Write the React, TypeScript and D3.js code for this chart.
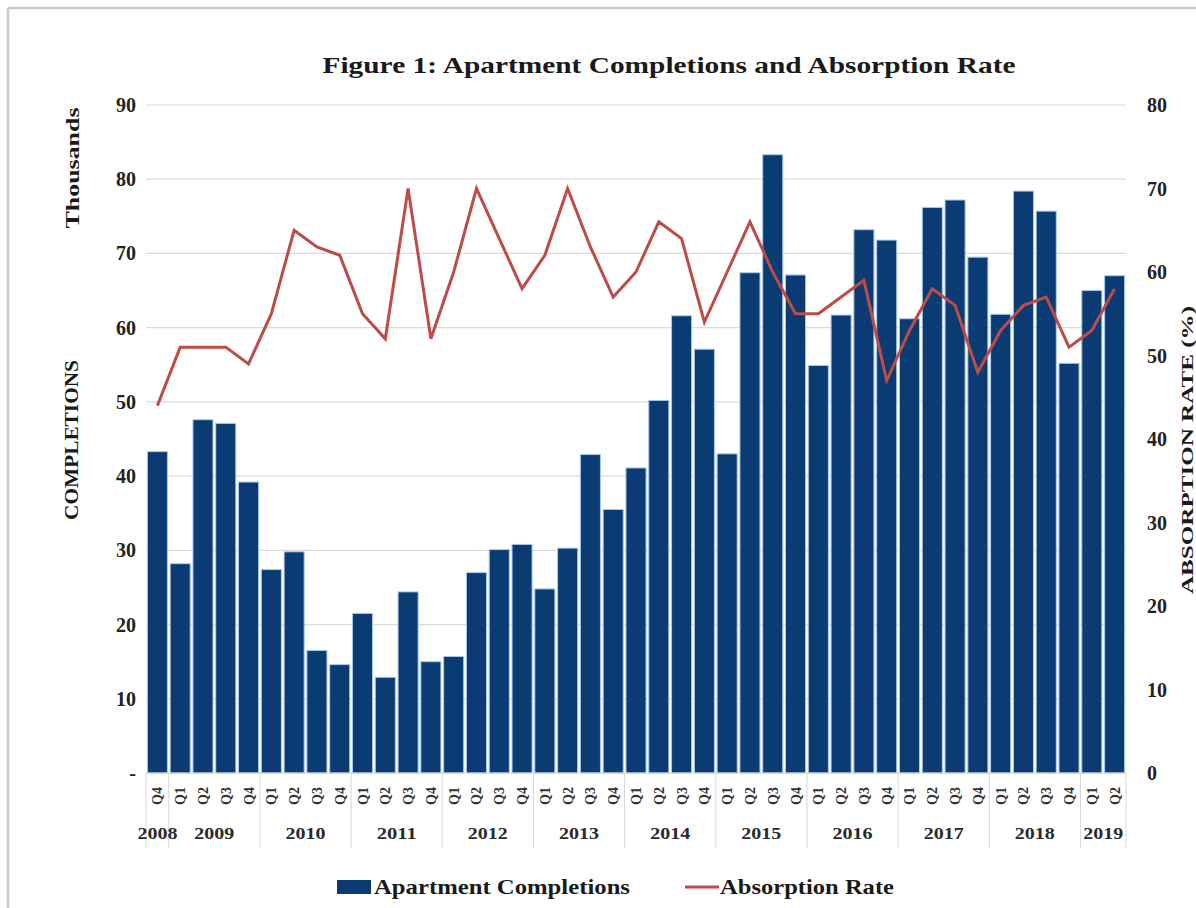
import React from "react";
import * as d3 from "d3";

const years = ["2008","2009","2010","2011","2012","2013","2014","2015","2016","2017","2018","2019"];
const quarters = [
  "Q4",
  "Q1","Q2","Q3","Q4",
  "Q1","Q2","Q3","Q4",
  "Q1","Q2","Q3","Q4",
  "Q1","Q2","Q3","Q4",
  "Q1","Q2","Q3","Q4",
  "Q1","Q2","Q3","Q4",
  "Q1","Q2","Q3","Q4",
  "Q1","Q2","Q3","Q4",
  "Q1","Q2","Q3","Q4",
  "Q1","Q2","Q3","Q4",
  "Q1","Q2",
];
const quartersPerYear = [1,4,4,4,4,4,4,4,4,4,4,2];
const completions = [
  43.3,
  28.2,47.6,47.1,39.2,
  27.4,29.8,16.5,14.6,
  21.5,12.9,24.4,15.0,
  15.7,27.0,30.1,30.8,
  24.8,30.3,42.9,35.5,
  41.1,50.2,61.6,57.1,
  43.0,67.4,83.3,67.1,
  54.9,61.7,73.2,71.8,
  61.2,76.2,77.2,69.5,
  61.8,78.4,75.7,55.2,
  65.0,67.0,
];
const absorption = [
  44,
  51,51,51,49,
  55,65,63,62,
  55,52,70,52,
  60,70,64,58,
  62,70,63,57,
  60,66,64,54,
  60,66,60,55,
  55,57,59,47,
  53,58,56,48,
  53,56,57,51,
  53,58,
];
const leftTicks = [0,10,20,30,40,50,60,70,80,90];
const rightTicks = [0,10,20,30,40,50,60,70,80];

const W = 1196, H = 908;
const L = 146, R = 1126, T = 105, B = 773;
const NAVY = "#0a3b72";
const RED = "#bd4b48";
const FONT = "'Liberation Serif', 'Times New Roman', serif";

export default function App() {
  const ids = quarters.map((_, i) => String(i));
  const x = d3.scaleBand().domain(ids).range([L, R]).paddingInner(0.12).paddingOuter(0.06);
  const yL = d3.scaleLinear().domain([0, 90]).range([B, T]);
  const yR = d3.scaleLinear().domain([0, 80]).range([B, T]);
  const line = d3.line<number>()
    .x((_, i) => (x(String(i)) as number) + x.bandwidth() / 2)
    .y((d) => yR(d));

  const bounds: number[] = [0];
  quartersPerYear.forEach((n) => bounds.push(bounds[bounds.length - 1] + n));
  const bx = (k: number) => L + (R - L) * (k / quarters.length);

  return (
    <svg width={W} height={H} style={{ position: "absolute", left: 0, top: 0, background: "#fff" }} fontFamily={FONT}>
      <rect x={0} y={0} width={W} height={H} fill="#fff" />
      <line x1={8} y1={8} x2={W} y2={8} stroke="#c9c9c9" strokeWidth={2.5} />
      <line x1={8} y1={8} x2={8} y2={H} stroke="#c9c9c9" strokeWidth={2.5} />

      <text x={669} y={73} textAnchor="middle" fontSize={23} fontWeight="bold" fill="#1a1a1a"
        textLength={693} lengthAdjust="spacingAndGlyphs">
        Figure 1: Apartment Completions and Absorption Rate
      </text>

      {leftTicks.filter((t) => t > 0).map((t) => (
        <line key={"g" + t} x1={L} x2={R} y1={yL(t)} y2={yL(t)} stroke="#dcdcdc" strokeWidth={1.2} />
      ))}

      {completions.map((v, i) => (
        <rect key={"b" + i} x={x(String(i))} y={yL(v)} width={x.bandwidth()} height={B - yL(v)}
          fill={NAVY} stroke="#a9c9ea" strokeWidth={1} />
      ))}

      <path d={line(absorption) || ""} fill="none" stroke={RED} strokeWidth={3} strokeLinejoin="miter" />

      <line x1={L} x2={R} y1={B} y2={B} stroke="#d0d0d0" strokeWidth={1} />

      {leftTicks.map((t) => (
        <text key={"l" + t} x={136} y={yL(t)} dy="0.35em" textAnchor="end" fontSize={20} fontWeight="bold" fill="#222">
          {t === 0 ? "-" : t}
        </text>
      ))}
      {rightTicks.map((t) => (
        <text key={"r" + t} x={1147} y={yR(t)} dy="0.35em" textAnchor="start" fontSize={20} fontWeight="bold" fill="#222">
          {t}
        </text>
      ))}

      <text transform="translate(79,168) rotate(-90)" textAnchor="middle" fontSize={19} fontWeight="bold" fill="#1a1a1a"
        textLength={121} lengthAdjust="spacingAndGlyphs">Thousands</text>
      <text transform="translate(78,440) rotate(-90)" textAnchor="middle" fontSize={18} fontWeight="bold" fill="#1a1a1a"
        textLength={160} lengthAdjust="spacingAndGlyphs">COMPLETIONS</text>
      <text transform="translate(1193,450) rotate(-90)" textAnchor="middle" fontSize={17} fontWeight="bold" fill="#1a1a1a"
        textLength={288} lengthAdjust="spacingAndGlyphs">ABSORPTION RATE (%)</text>

      {quarters.map((q, i) => {
        const cx = (x(String(i)) as number) + x.bandwidth() / 2;
        return (
          <text key={"q" + i} transform={`translate(${cx + 5},787) rotate(-90)`} textAnchor="end" fontSize={14}
            fontWeight="bold" fill="#333">{q}</text>
        );
      })}

      {bounds.map((k, i) => (
        <line key={"s" + i} x1={bx(k)} x2={bx(k)} y1={B} y2={848} stroke="#d6d6d6" strokeWidth={1} />
      ))}

      {years.map((yv, i) => (
        <text key={"y" + yv} x={(bx(bounds[i]) + bx(bounds[i + 1])) / 2} y={839} textAnchor="middle" fontSize={17}
          fontWeight="bold" fill="#2a2a2a" textLength={40} lengthAdjust="spacingAndGlyphs">{yv}</text>
      ))}

      <rect x={337} y={880} width={34} height={14} fill={NAVY} />
      <text x={374} y={894} fontSize={21} fontWeight="bold" fill="#1a1a1a" textLength={256} lengthAdjust="spacingAndGlyphs">
        Apartment Completions
      </text>
      <line x1={685} x2={719} y1={887} y2={887} stroke={RED} strokeWidth={3} />
      <text x={720} y={894} fontSize={21} fontWeight="bold" fill="#1a1a1a" textLength={174} lengthAdjust="spacingAndGlyphs">
        Absorption Rate
      </text>
    </svg>
  );
}
